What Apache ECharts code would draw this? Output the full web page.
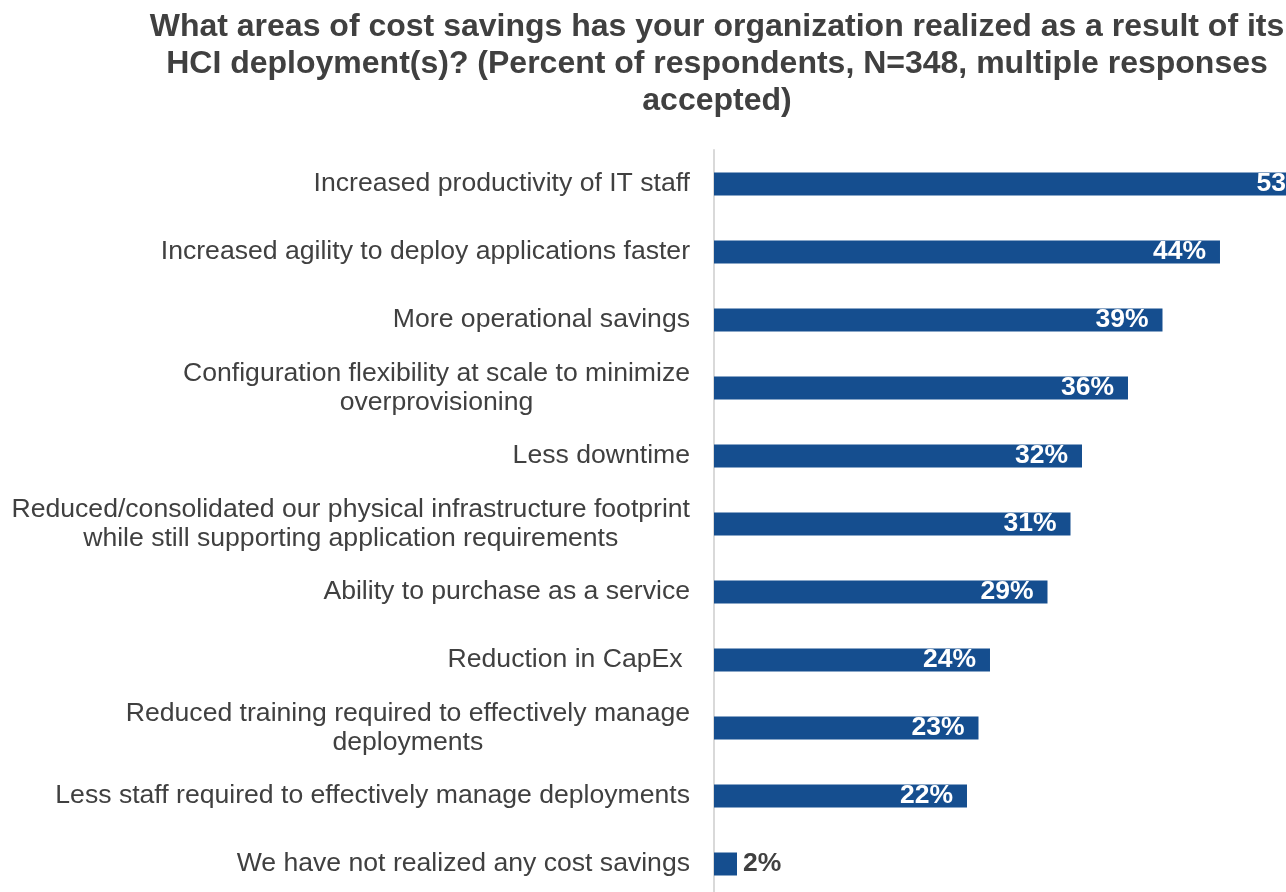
<!DOCTYPE html>
<html>
<head>
<meta charset="utf-8">
<script src="https://cdn.jsdelivr.net/npm/echarts@6/dist/echarts.min.js"></script>
<style>
html,body{margin:0;padding:0;background:#fff;}
#chart{width:1286px;height:892px;}
</style>
</head>
<body>
<div id="chart"></div>
<script>
const titleText = "What areas of cost savings has your organization realized as a result of its\nHCI deployment(s)? (Percent of respondents, N=348, multiple responses\naccepted)";
const categories = [
  "Increased productivity of IT staff",
  "Increased agility to deploy applications faster",
  "More operational savings",
  "Configuration flexibility at scale to minimize\noverprovisioning",
  "Less downtime",
  "Reduced/consolidated our physical infrastructure footprint\nwhile still supporting application requirements",
  "Ability to purchase as a service",
  "Reduction in CapEx ",
  "Reduced training required to effectively manage\ndeployments",
  "Less staff required to effectively manage deployments",
  "We have not realized any cost savings"
];
const values = [53, 44, 39, 36, 32, 31, 29, 24, 23, 22, 2];
// visible part of the value axis (the top bar runs past the page edge)
const axisMax = 49.74;

const FONT = "'Liberation Sans', Arial, sans-serif";
const LABEL_SIZE = 26.6;

// multi-line category labels: block right-aligned, lines centred within it
const ctx = document.createElement('canvas').getContext('2d');
ctx.font = LABEL_SIZE + "px 'Liberation Sans', Arial, sans-serif";
const yData = categories.map(c => {
  if (c.indexOf('\n') < 0) return c;
  const w = Math.max.apply(null, c.split('\n').map(s => ctx.measureText(s).width));
  return { value: c, textStyle: { align: 'center', padding: [4, w, 0, 0] } };
});

const chart = echarts.init(document.getElementById('chart'));
const data = values.map(v => v < 5 ? {
  value: v,
  label: { position: 'right', color: '#404040', distance: 6 }
} : v);

chart.setOption({
  animation: false,
  backgroundColor: '#ffffff',
  title: {
    text: titleText,
    left: 712,
    top: 4,
    textAlign: 'center',
    textStyle: {
      fontFamily: FONT,
      fontSize: 32,
      fontWeight: 'bold',
      color: '#404040',
      lineHeight: 37
    }
  },
  grid: { left: 714, right: 0, top: 150, bottom: -6, containLabel: false, outerBoundsMode: 'none' },
  xAxis: {
    type: 'value', min: 0, max: axisMax, show: false
  },
  yAxis: {
    type: 'category',
    data: yData,
    inverse: true,
    axisLine: { show: true, lineStyle: { color: '#d9d9d9', width: 2 } },
    axisTick: { show: false },
    axisLabel: {
      margin: 24,
      fontFamily: FONT,
      fontSize: LABEL_SIZE,
      color: '#404040',
      lineHeight: 29,
      align: 'right',
      padding: [4, 0, 0, 0]
    }
  },
  series: [{
    type: 'bar',
    data: data,
    barWidth: 23,
    clip: false,
    itemStyle: { color: '#154e8f' },
    label: {
      show: true,
      position: 'insideRight',
      distance: 14,
      formatter: '{c}%',
      fontFamily: FONT,
      fontSize: 26.5,
      fontWeight: 'bold',
      color: '#ffffff'
    }
  }]
});
</script>
</body>
</html>
